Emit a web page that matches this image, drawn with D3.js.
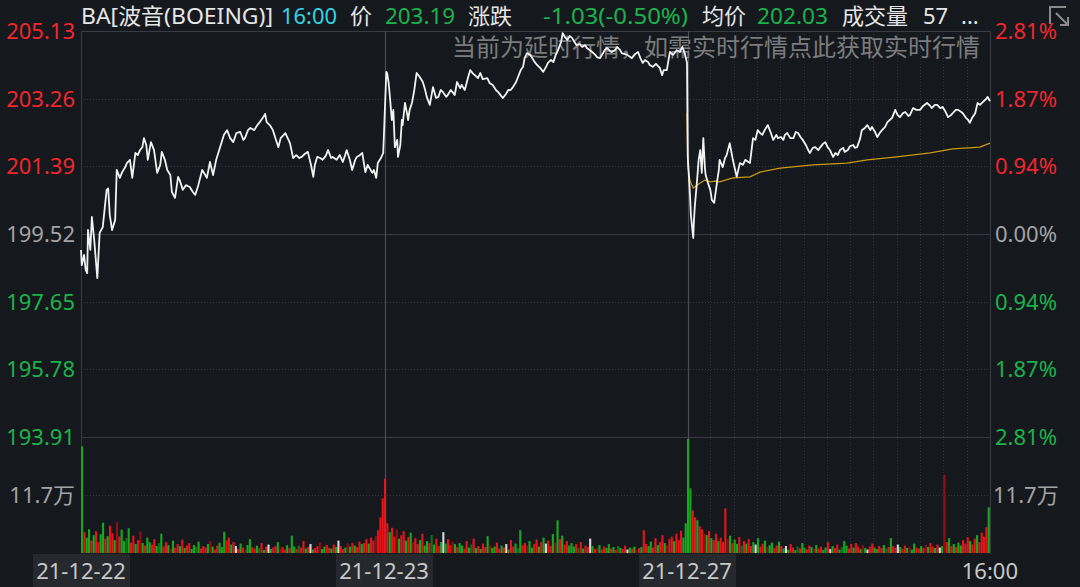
<!DOCTYPE html>
<html><head><meta charset="utf-8">
<script src="https://cdn.jsdelivr.net/npm/d3@7"></script>
<style>html,body{margin:0;padding:0;background:#15181d;overflow:hidden}</style>
</head><body><svg id="c" width="1080" height="587"></svg>
<script>
// ---------------- DATA ----------------
const dayLabels = ["21-12-22", "21-12-23", "21-12-27"];
const endLabel = "16:00";
const prevClose = 199.52;
const priceTicks = [205.13, 203.26, 201.39, 199.52, 197.65, 195.78, 193.91];
const pctTicks = ["2.81%", "1.87%", "0.94%", "0.00%", "0.94%", "1.87%", "2.81%"];
const volTick = 11.7;          // 万
const volTickLabel = "11.7万";

// [minute of session, price]
const day1Price = [[0,199.08],[1,198.66],[4,198.94],[6,198.53],[8,198.44],[9,199.63],[12,199.08],[14,199.99],[17,199.35],[21,198.30],[24,199.55],[28,199.71],[33,200.74],[35,200.78],[37,200.05],[40,199.63],[44,199.91],[46,201.29],[50,201.07],[53,201.23],[57,201.37],[59,201.48],[63,201.57],[66,201.07],[70,201.76],[73,201.70],[76,201.84],[79,201.92],[81,202.17],[84,201.98],[86,201.57],[90,202.06],[94,201.84],[98,201.21],[102,201.43],[104,201.79],[108,201.57],[111,201.29],[115,201.15],[117,200.68],[121,200.52],[125,201.10],[127,201.01],[131,200.74],[135,200.87],[140,200.82],[144,200.68],[147,200.60],[151,200.87],[156,201.29],[160,201.15],[162,201.07],[166,201.51],[170,201.15],[174,201.57],[179,201.92],[184,202.26],[188,202.39],[192,202.17],[196,202.06],[200,202.31],[205,202.34],[209,202.12],[211,202.17],[215,202.39],[218,202.45],[223,202.39],[227,202.53],[230,202.61],[234,202.73],[237,202.84],[239,202.61],[243,202.53],[247,202.39],[251,202.12],[254,201.92],[257,202.17],[263,202.31],[266,202.17],[269,202.03],[273,201.62],[277,201.70],[281,201.62],[284,201.65],[288,201.73],[292,201.79],[296,201.43],[299,201.10],[301,201.43],[304,201.65],[308,201.62],[311,201.57],[315,201.68],[318,201.84],[322,201.62],[324,201.65],[329,201.57],[333,201.70],[337,201.51],[340,201.70],[342,201.84],[346,201.57],[349,201.29],[353,201.57],[355,201.65],[359,201.70],[362,201.76],[366,201.23],[369,201.43],[375,201.21],[377,201.29],[380,201.07],[382,201.48],[386,201.62],[389,201.76]];

const day2Price = [[3,204.00],[4,203.97],[6,203.69],[8,203.22],[10,202.67],[12,202.95],[14,201.92],[17,202.12],[18,201.65],[21,201.98],[23,202.67],[24,202.53],[27,203.14],[30,202.81],[31,202.67],[33,202.95],[36,203.14],[39,203.50],[42,203.97],[46,203.86],[50,203.72],[53,203.50],[55,203.31],[59,203.09],[63,203.58],[67,203.28],[70,203.31],[73,203.50],[76,203.44],[80,203.31],[82,203.36],[86,203.50],[89,203.42],[91,203.36],[94,203.72],[98,203.55],[100,203.64],[104,203.50],[108,203.83],[111,204.05],[115,203.94],[117,203.91],[121,203.83],[124,203.97],[127,203.80],[133,203.83],[136,203.69],[140,203.64],[144,203.50],[147,203.44],[151,203.33],[153,203.28],[157,203.39],[160,203.50],[163,203.50],[166,203.58],[170,203.72],[172,203.83],[176,204.05],[179,204.14],[181,204.38],[184,204.52],[188,204.47],[190,204.41],[194,204.27],[197,204.19],[201,204.11],[205,204.00],[209,204.16],[211,204.25],[215,204.33],[218,204.27],[221,204.47],[224,204.60],[228,204.83],[230,205.07],[233,204.96],[236,204.88],[239,204.99],[242,204.94],[246,204.80],[248,204.74],[252,204.77],[255,204.69],[259,204.74],[261,204.66],[265,204.60],[268,204.55],[272,204.47],[274,204.41],[278,204.38],[282,204.52],[284,204.60],[287,204.66],[291,204.58],[293,204.55],[297,204.60],[300,204.69],[304,204.60],[306,204.52],[310,204.49],[313,204.47],[317,204.41],[319,204.38],[323,204.49],[327,204.55],[330,204.38],[333,204.25],[336,204.33],[340,204.27],[342,204.19],[346,204.14],[350,204.22],[355,204.11],[358,203.91],[360,204.05],[364,204.05],[368,204.55],[372,204.47],[377,204.60],[381,204.55],[384,204.69],[387,204.52],[390,204.25]];

const day3Price = [[1,201.65],[4,200.54],[5,200.05],[8,199.41],[9,199.91],[10,200.27],[13,201.01],[15,201.57],[17,201.84],[19,201.21],[21,202.17],[23,201.37],[24,201.15],[27,200.93],[30,200.74],[32,200.46],[35,200.38],[39,201.01],[41,201.29],[42,201.57],[46,201.37],[49,201.62],[51,201.70],[55,202.03],[59,201.57],[62,201.29],[64,201.10],[68,201.48],[72,201.43],[75,201.57],[79,201.51],[81,201.48],[85,202.17],[88,202.12],[91,202.39],[94,202.31],[97,202.26],[100,202.39],[104,202.53],[108,202.31],[111,202.12],[115,202.26],[117,202.17],[121,202.20],[124,202.12],[126,202.26],[129,202.31],[133,202.17],[137,202.17],[140,202.34],[143,202.31],[146,202.20],[149,202.12],[153,201.98],[156,201.84],[158,201.76],[162,201.90],[165,201.92],[169,201.84],[171,201.90],[175,202.01],[178,202.06],[181,201.92],[184,201.84],[188,201.65],[191,201.76],[194,201.70],[197,201.84],[201,201.90],[203,201.79],[207,201.84],[210,201.95],[214,201.98],[216,201.90],[219,201.92],[223,202.17],[225,202.39],[229,202.45],[232,202.53],[236,202.39],[238,202.48],[242,202.34],[245,202.20],[248,202.31],[251,202.39],[255,202.48],[258,202.61],[261,202.67],[264,202.73],[268,202.95],[271,202.81],[274,202.75],[278,202.86],[281,202.89],[285,202.78],[287,202.81],[291,203.00],[295,202.95],[300,202.95],[304,203.06],[309,203.14],[313,203.06],[315,203.00],[319,203.09],[322,203.09],[326,203.00],[329,203.03],[333,202.89],[336,202.75],[340,202.81],[342,202.86],[346,202.95],[349,202.95],[353,202.89],[355,202.86],[359,202.73],[362,202.67],[364,202.59],[367,202.73],[371,202.86],[374,203.14],[377,203.09],[381,203.17],[385,203.25],[387,203.31],[390,203.19]];

const day3Avg = [[0,202.86],[1,201.37],[4,200.98],[8,200.79],[13,200.87],[17,200.93],[23,201.01],[30,200.96],[36,200.98],[42,200.96],[59,201.07],[81,201.10],[94,201.23],[120,201.34],[162,201.43],[206,201.48],[232,201.57],[270,201.65],[313,201.76],[342,201.87],[377,201.92],[390,202.03]];

// volume in 万 shares, 3-minute buckets (130 per day)
const day1Vol = [21.5,4.2,3.1,4.8,2.5,3.6,4.4,2.2,3.8,6.1,2.9,3.4,5.5,4.0,2.6,6.2,3.3,4.7,2.4,3.0,5.0,2.1,3.5,1.8,2.6,4.3,2.0,1.5,3.1,2.2,1.7,2.8,1.4,2.0,3.9,1.3,2.2,1.6,0.9,2.5,1.1,1.8,1.4,2.7,1.0,1.5,2.0,0.8,1.6,1.2,2.3,0.9,1.4,1.1,1.8,2.4,1.3,0.7,1.5,2.1,1.2,4.3,2.6,3.1,1.7,2.2,1.4,0.8,1.9,1.1,0.7,1.6,2.8,1.2,0.9,1.5,1.0,2.0,0.6,1.3,1.7,0.8,1.1,1.4,2.2,0.9,1.2,0.7,1.6,1.0,3.5,1.3,0.8,1.5,1.1,2.4,0.9,1.2,1.8,0.7,1.0,1.4,2.1,0.8,1.3,1.6,1.0,0.9,1.7,1.2,2.5,1.4,0.8,1.1,1.9,1.3,2.0,1.5,1.2,2.3,1.8,2.0,2.8,1.9,3.1,2.5,3.4,4.6,7.2,11.0];
const day2Vol = [15.0,6.0,4.2,5.1,3.3,4.8,2.9,3.6,4.4,2.5,3.2,4.1,2.2,3.0,1.8,2.6,3.9,1.5,2.4,2.0,3.6,1.7,2.9,1.4,2.2,4.2,1.9,2.8,1.6,2.3,1.8,1.2,2.0,1.5,0.9,2.4,1.1,1.7,2.9,1.0,1.4,0.8,1.9,1.2,3.4,1.6,1.0,1.3,2.1,0.9,1.5,1.1,1.8,0.7,2.6,1.3,1.9,1.0,4.6,1.6,2.0,1.5,2.4,1.1,1.8,2.7,1.3,2.2,3.1,1.9,2.5,1.4,3.8,2.1,6.6,2.8,3.5,1.7,2.4,1.5,2.0,1.3,1.8,1.0,2.2,0.9,1.5,1.2,2.9,1.4,0.8,1.1,1.6,0.7,1.3,1.0,1.8,0.9,1.2,0.6,1.4,1.0,0.8,1.5,0.7,1.1,0.9,1.3,0.6,1.0,1.2,4.6,1.8,1.4,2.3,1.1,3.0,1.6,2.2,3.6,2.0,1.5,2.8,3.3,2.4,3.9,2.6,4.5,3.1,6.0];
const day3Vol = [23.0,13.0,8.6,7.2,6.6,5.4,4.8,3.9,3.6,4.4,3.0,2.6,3.9,2.4,3.1,2.2,9.0,2.8,3.5,2.0,2.7,1.8,3.2,1.5,2.4,1.9,2.8,1.4,2.2,1.7,3.0,1.3,1.9,2.5,1.2,1.6,2.1,1.0,1.5,2.3,1.4,0.9,1.4,0.7,1.8,1.1,0.6,1.3,0.9,2.0,1.0,0.7,1.5,1.2,0.8,1.6,0.9,1.3,0.6,1.1,2.2,0.8,1.4,1.0,1.7,0.7,1.2,2.4,1.5,0.9,1.8,1.1,2.0,1.3,0.8,1.6,1.0,0.7,1.3,1.9,1.1,0.8,1.4,1.0,1.6,0.9,1.2,3.0,1.4,1.0,1.7,1.2,0.8,1.5,1.0,1.3,0.7,1.9,1.1,0.9,1.4,1.0,1.6,1.2,2.0,1.3,1.0,1.7,1.1,1.4,15.8,2.2,3.0,1.4,1.8,1.2,2.1,1.5,2.6,1.9,3.2,2.4,1.7,2.9,3.6,2.2,4.1,3.3,5.2,9.2];

// bar tone per bucket: r=up, d=up(dim), g=down, e=down(dim), w=flat
const day1Dir = ["grggrgrrgg","rgrrgdrgge","grrgrdgrgg","rrgegrrgdg","rrgrgrrgge","grrrgdgrrg","ggrrgrwrgr","dggrrgergr","wgrrgdrrgr","ggrerrgrwg","rrdggrrgrg","wrrgdgrgrr","grrgrrdrrr"].join("");
const day2Dir = ["rrgrrdgrrg","rgdrrgrggr","egrrgwgrrd","grggrrgerg","rgrrgdggrr","grwgrrgegr","rdggrrgrgw","rrgdgrgrrg","ggrergrrwg","rdgrrggrgr","egrrwgrgdr","grrggrrgrr","gdrrgrrrgg"].join("");
const day3Dir = ["ggrrgrrdgr","grrgrrrdgr","ggrergrrgw","grrgdggrrg","rgwgrrgerg","grrgdgrrgg","rwgrrgeggr","rgrrgdgwrr","ggrrgergrr","wgrrgdggrr","grdgrrgrwg","drgrgrggrr","rgrrgrrrrg"].join("");

// header quote
const quote = {name:"BA[波音(BOEING)]", time:"16:00", price:"203.19", change:"-1.03(-0.50%)", avg:"202.03", vol:"57"};
const notice = "当前为延时行情，如需实时行情点此获取实时行情";

// ---------------- DRAW ----------------
const W = 1080, H = 587;
const RED = "#f0272d", GREEN = "#1cb34b", GREY = "#a3a3a3";
const FONT = "'Noto Sans','Noto Sans CJK SC',sans-serif";
const svg = d3.select("#c");
svg.append("rect").attr("width", W).attr("height", H).attr("fill", "#15181d");

const L = 81, R = 990, T = 31, M = 437, VB = 553;
const x = d3.scaleLinear().domain([0, 1170]).range([L, R]);
const y = d3.scaleLinear().domain([193.91, 205.13]).range([M, T]);
const yv = d3.scaleLinear().domain([0, 2 * volTick]).range([VB, M]);

// gridlines
const g = svg.append("g");
priceTicks.forEach(t => {
  const solid = (t === prevClose || t === 193.91 || t === 205.13);
  g.append("line").attr("x1", L).attr("x2", R).attr("y1", Math.round(y(t)) + 0.5).attr("y2", Math.round(y(t)) + 0.5)
    .attr("stroke", solid ? "#393c42" : "#34373d").attr("stroke-width", 1)
    .attr("stroke-dasharray", solid ? null : "1,2");
});
g.append("line").attr("x1", L).attr("x2", R).attr("y1", Math.round(yv(volTick)) + 0.5).attr("y2", Math.round(yv(volTick)) + 0.5)
  .attr("stroke", "#34373d").attr("stroke-dasharray", "1,2");
// day3 half-hour dotted verticals
for (let k = 1; k <= 12; k++) {
  const xx = Math.round(x(780 + k * 30)) + 0.5;
  g.append("line").attr("x1", xx).attr("x2", xx).attr("y1", T).attr("y2", VB)
    .attr("stroke", "#30333a").attr("stroke-dasharray", "1,2");
}
// borders and day separators
[0, 1170].forEach(t => {
  const xx = Math.round(x(t)) + 0.5;
  g.append("line").attr("x1", xx).attr("x2", xx).attr("y1", T).attr("y2", VB).attr("stroke", "#393c42");
});
[390, 780].forEach(t => {
  const xx = Math.round(x(t)) + 1.5;
  g.append("line").attr("x1", xx).attr("x2", xx).attr("y1", T).attr("y2", VB).attr("stroke", "#4a4d53").attr("stroke-width", 1.2);
});

// watermark
svg.append("text").attr("x", 980).attr("y", 56).attr("text-anchor", "end")
  .attr("font-family", FONT).attr("font-size", 24).attr("fill", "#7b7c7e").text(notice);

// volume bars
const toneColor = {r: "#e3161c", d: "#8e1010", g: "#17a81f", e: "#13701a", w: "#d8d8d8"};
const volG = svg.append("g");
[[day1Vol, day1Dir], [day2Vol, day2Dir], [day3Vol, day3Dir]].forEach(([vols, dirs], d) => {
  volG.selectAll(null).data(vols).enter().append("rect")
    .attr("x", (v, i) => x(d * 390 + i * 3))
    .attr("width", (v, i) => x(d * 390 + i * 3 + 3) - x(d * 390 + i * 3) - 0.2)
    .attr("y", v => yv(v))
    .attr("height", v => yv(0) - yv(v))
    .attr("fill", (v, i) => toneColor[dirs[i] || "r"]);
});

// price line
const series = [].concat(
  day1Price.map(p => [p[0], p[1]]),
  day2Price.map(p => [390 + p[0], p[1]]),
  day3Price.map(p => [780 + p[0], p[1]])
);
const line = d3.line().x(d => x(d[0])).y(d => y(d[1]));
svg.append("path").attr("d", line(day3Avg.map(p => [780 + p[0], p[1]])))
  .attr("fill", "none").attr("stroke", "#c99a12").attr("stroke-width", 1.2);
svg.append("path").attr("d", line(series))
  .attr("fill", "none").attr("stroke", "#f2f2f2").attr("stroke-width", 1.8).attr("stroke-linejoin", "round");

// axis labels
const ax = svg.append("g").attr("font-family", FONT).attr("font-size", 22);
priceTicks.forEach((t, i) => {
  const c = t > prevClose ? RED : (t < prevClose ? GREEN : GREY);
  ax.append("text").attr("x", 75).attr("y", y(t)).attr("dy", "0.36em").attr("text-anchor", "end").attr("fill", c).text(t.toFixed(2));
  ax.append("text").attr("x", 995).attr("y", y(t)).attr("dy", "0.36em").attr("fill", c).text(pctTicks[i]);
});
ax.append("text").attr("x", 75).attr("y", yv(volTick)).attr("dy", "0.36em").attr("text-anchor", "end").attr("fill", GREY).text(volTickLabel);
ax.append("text").attr("x", 993).attr("y", yv(volTick)).attr("dy", "0.36em").attr("fill", GREY).text(volTickLabel);

// date labels
dayLabels.forEach((lab, d) => {
  const cx = x(d * 390);
  ax.append("rect").attr("x", cx - 48).attr("y", 554).attr("width", 97).attr("height", 33).attr("fill", "#25282d");
  ax.append("text").attr("x", cx).attr("y", 571).attr("dy", "0.36em").attr("text-anchor", "middle").attr("fill", "#c8c8c8").text(lab);
});
ax.append("text").attr("x", 1018).attr("y", 571).attr("dy", "0.36em").attr("text-anchor", "end").attr("fill", "#c8c8c8").text(endLabel);

// header
const hd = svg.append("g").attr("font-family", FONT).attr("font-size", 22);
const hy = 24;
const WHITE = "#e6e6e6";
[[81, quote.name, WHITE, 192], [281, quote.time, "#35d3e3", 56], [350, "价", WHITE, 0], [385, quote.price, GREEN, 70],
 [468, "涨跌", WHITE, 0], [543, quote.change, GREEN, 145], [702, "均价", WHITE, 0], [757, quote.avg, GREEN, 71],
 [842, "成交量", WHITE, 0], [923, quote.vol, WHITE, 0], [961, "...", WHITE, 0]].forEach(([xx, s, c, len]) => {
  const t = hd.append("text").attr("x", xx).attr("y", hy).attr("fill", c).text(s);
  if (len) t.attr("textLength", len).attr("lengthAdjust", "spacingAndGlyphs");
});
// corner icon
const ic = svg.append("g").attr("stroke", "#8a8a8a").attr("stroke-width", 2).attr("fill", "none");
ic.append("path").attr("d", "M1066,7 L1050,7 L1050,24");
ic.append("path").attr("d", "M1056,13 L1068,25 M1068,17 L1068,25 L1060,25");
</script></body></html>
